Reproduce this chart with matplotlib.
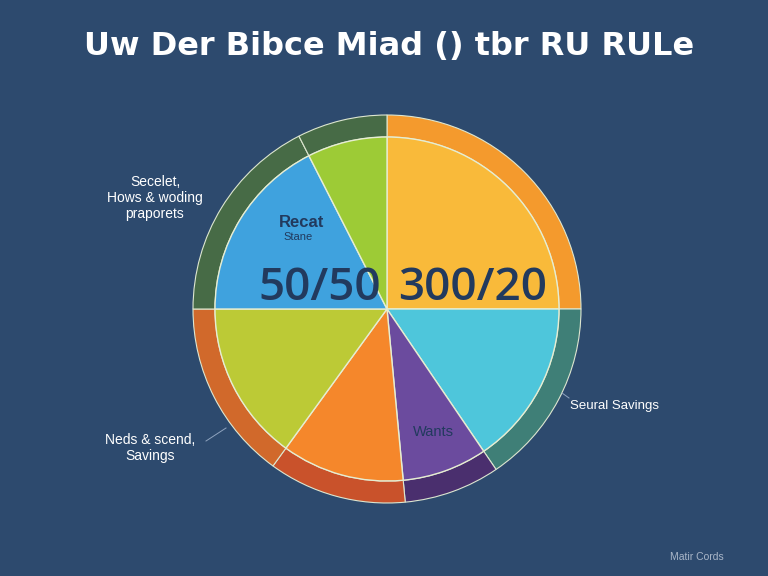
import matplotlib
matplotlib.use("Agg")
import matplotlib.pyplot as plt

# Budget split, clockwise from 12 o'clock (percent of the circle)
segments = ["Needs", "Savings", "Wants", "Spend", "Neds", "Recat", "Other"]
shares = [25.0, 15.5, 8.0, 11.5, 15.0, 17.5, 7.5]
inner_colors = ["#F9BA3A", "#4EC6DB", "#6B4B9E", "#F5872B", "#BCCA36", "#3FA2DE", "#9DCB36"]
ring_colors = ["#F49A2D", "#3F7F77", "#4A2F6E", "#C9522B", "#D1692B", "#476B46", "#476B46"]

title = "Uw Der Bibce Miad () tbr RU RULe"
big_left = "50/50"
big_right = "300/20"

BG = "#2D4A6E"
W, H = 768, 576

fig = plt.figure(figsize=(W / 100, H / 100), dpi=100, facecolor=BG)

cx, cy, R, ring_w = 387, 309, 194, 22
half = 215
ax = fig.add_axes([(cx - half) / W, (H - cy - half) / H, 2 * half / W, 2 * half / H])
ax.set_facecolor(BG)

# outer ring
ax.pie(shares, radius=R, colors=ring_colors, startangle=90, counterclock=False,
       wedgeprops=dict(width=ring_w, edgecolor="#DDE6D0", linewidth=0.8))
# inner pie
ax.pie(shares, radius=R - ring_w, colors=inner_colors, startangle=90, counterclock=False,
       wedgeprops=dict(edgecolor="#E6EDD2", linewidth=1.0))

ax.set_xlim(-half, half)
ax.set_ylim(-half, half)
ax.set_aspect("equal")
ax.axis("off")


def fx(x):
    return x / W


def fy(y):
    return 1 - y / H


fig.text(fx(389), fy(46), title, color="white", fontsize=23, fontweight="bold",
         family="DejaVu Sans", ha="center", va="center")

fig.text(fx(155), fy(198), "Secelet,\nHows & woding\npraporets", color="white",
         fontsize=10, family="Liberation Sans", ha="center", va="center", linespacing=1.15)
fig.text(fx(150), fy(448), "Neds & scend,\nSavings", color="white",
         fontsize=10, family="Liberation Sans", ha="center", va="center", linespacing=1.15)
fig.text(fx(614), fy(406), "Seural Savings", color="white",
         fontsize=9.5, family="Liberation Sans", ha="center", va="center")
fig.text(fx(697), fy(557), "Matir Cords", color="#A9B6C8",
         fontsize=7.5, family="Liberation Sans", ha="center", va="center")

# leader lines
fig.add_artist(plt.Line2D([fx(206), fx(226)], [fy(441), fy(428)], color="#8FA4BF", lw=0.7))
fig.add_artist(plt.Line2D([fx(562), fx(569)], [fy(393), fy(398)], color="#8FA4BF", lw=0.7))

# labels inside the pie
NAVY = "#223A5E"
fig.text(fx(302), fy(222), "Recat", color=NAVY, fontsize=12, fontweight="bold",
         family="Liberation Sans", ha="center", va="center")
fig.text(fx(298), fy(237), "Stane", color=NAVY, fontsize=8,
         family="Liberation Sans", ha="center", va="center")
fig.text(fx(433), fy(432), "Wants", color=NAVY, fontsize=10.5,
         family="Liberation Sans", ha="center", va="center")
fig.text(fx(320), fy(289), big_left, color=NAVY, fontsize=33, fontweight="semibold",
         family="Open Sans", ha="center", va="center")
fig.text(fx(473), fy(289), big_right, color=NAVY, fontsize=33, fontweight="semibold",
         family="Open Sans", ha="center", va="center")

fig.savefig("out.png", dpi=100, facecolor=BG)
